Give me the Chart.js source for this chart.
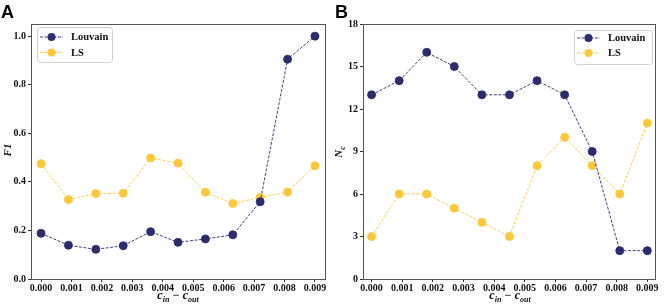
<!DOCTYPE html>
<html><head><meta charset="utf-8">
<script src="https://cdn.jsdelivr.net/npm/chart.js@4"></script>
<style>
html,body{margin:0;padding:0;background:#fff;}
#wrap{position:relative;width:664px;height:308px;overflow:hidden;}
.pane{position:absolute;top:0;width:332px;height:308px;}
.lbl{position:absolute;font-family:"Liberation Sans",Arial,sans-serif;font-weight:bold;font-size:18px;line-height:18px;color:#000;}
.xt{position:absolute;font-family:"Liberation Serif","Times New Roman",serif;font-style:italic;font-weight:bold;font-size:12px;line-height:12px;color:#111;white-space:nowrap;transform:translateX(-50%);}
.xt sub{font-size:8px;vertical-align:-3px;line-height:8px;}
.yt{position:absolute;font-family:"Liberation Serif","Times New Roman",serif;font-style:italic;font-weight:bold;font-size:11px;line-height:11px;color:#111;white-space:nowrap;transform:translate(-50%,-50%) rotate(-90deg);}
.yt sub{font-size:8px;vertical-align:-3px;line-height:8px;}
</style></head>
<body><div id="wrap">
<div class="pane" style="left:0"><canvas id="cA"></canvas></div>
<div class="pane" style="left:332px"><canvas id="cB"></canvas></div>
<div class="lbl" style="left:1px;top:3px">A</div>
<div class="lbl" style="left:335px;top:3px">B</div>
<div class="xt" style="left:178px;top:289px">c<sub>in</sub> − c<sub>out</sub></div>
<div class="xt" style="left:510px;top:289px">c<sub>in</sub> − c<sub>out</sub></div>
<div class="yt" style="left:7px;top:150px">F1</div>
<div class="yt" style="left:340px;top:152px">N<sub>c</sub></div>
</div>
<script>
const xValues = [0, 0.0009, 0.0018, 0.0027, 0.0036, 0.0045, 0.0054, 0.0063, 0.0072, 0.0081, 0.009];
const xTicks = [0, 0.001, 0.002, 0.003, 0.004, 0.005, 0.006, 0.007, 0.008, 0.009];
const seriesNames = ["Louvain", "LS"];
const f1Louvain = [0.188, 0.139, 0.122, 0.137, 0.195, 0.151, 0.165, 0.182, 0.318, 0.905, 1.0];
const f1LS = [0.475, 0.327, 0.352, 0.353, 0.498, 0.477, 0.357, 0.311, 0.336, 0.358, 0.466];
const ncLouvain = [13, 14, 16, 15, 13, 13, 14, 13, 9, 2, 2];
const ncLS = [3, 6, 6, 5, 4, 3, 8, 10, 8, 6, 11];
const f1Ticks = [0, 0.2, 0.4, 0.6, 0.8, 1.0];
const ncTicks = [0, 3, 6, 9, 12, 15, 18];

const NAVY = '#2c2d6c', GOLD = '#fdc738';
const tickFont = {family: '"Liberation Serif","Times New Roman",serif', weight: 'bold', size: 10};

function ds(name, vals, color) {
  return {
    label: name,
    data: vals.map((v, i) => ({x: xValues[i], y: v})),
    borderColor: color, backgroundColor: color,
    pointBackgroundColor: color, pointBorderColor: color,
    borderWidth: 0.9, borderDash: [3, 1.5],
    pointRadius: 4, pointHoverRadius: 4, tension: 0, showLine: true
  };
}

const framePlugin = {
  id: 'frame',
  afterDraw(chart) {
    const a = chart.chartArea, c = chart.ctx;
    c.save();
    c.strokeStyle = '#555'; c.lineWidth = 1;
    c.strokeRect(Math.round(a.left) + 0.5, Math.round(a.top) + 0.5, Math.round(a.right - a.left), Math.round(a.bottom - a.top));
    const L = chart.options.plugins.myLegend;
    c.fillStyle = 'rgba(255,255,255,0.85)';
    c.strokeStyle = '#d0d0d0'; c.lineWidth = 1;
    c.beginPath();
    if (c.roundRect) c.roundRect(L.x + 0.5, L.y + 0.5, L.w, L.h, 3); else c.rect(L.x + 0.5, L.y + 0.5, L.w, L.h);
    c.fill(); c.stroke();
    chart.data.datasets.forEach((d, i) => {
      const cy = L.y + L.row0 + i * L.gap;
      c.strokeStyle = d.borderColor; c.lineWidth = 0.9; c.setLineDash([3, 1.5]);
      c.beginPath(); c.moveTo(L.x + 3, cy); c.lineTo(L.x + 26, cy); c.stroke();
      c.setLineDash([]);
      c.fillStyle = d.borderColor;
      c.beginPath(); c.arc(L.x + 14.5, cy, 4, 0, Math.PI * 2); c.fill();
      c.fillStyle = '#111';
      c.font = 'bold 10.5px "Liberation Serif","Times New Roman",serif';
      c.textBaseline = 'middle'; c.textAlign = 'left';
      c.fillText(d.label, L.x + 34, cy + 0.5);
    });
    c.restore();
  }
};

function make(id, a, b, yTicks, yMax, yFmt, xMin, xMax, padRight, legend) {
  return new Chart(document.getElementById(id), {
    type: 'line',
    data: {datasets: [ds(seriesNames[0], a, NAVY), ds(seriesNames[1], b, GOLD)]},
    options: {
      responsive: true, maintainAspectRatio: false, animation: false,
      layout: {padding: {left: 0, top: 24, right: padRight, bottom: 0}},
      plugins: {legend: {display: false}, tooltip: {enabled: false}, myLegend: legend},
      scales: {
        x: {
          type: 'linear', min: xMin, max: xMax,
          afterBuildTicks(s) { s.ticks = xTicks.map(v => ({value: v})); },
          afterFit(s) { s.height = 29; },
          ticks: {font: tickFont, color: '#111', padding: 0, maxRotation: 0, autoSkip: false, callback: v => Number(v).toFixed(3)},
          grid: {display: true, drawOnChartArea: false, drawTicks: true, tickLength: 3, color: '#333'},
          border: {display: false}
        },
        y: {
          type: 'linear', min: 0, max: yMax,
          afterBuildTicks(s) { s.ticks = yTicks.map(v => ({value: v})); },
          afterFit(s) { s.width = 31; },
          ticks: {font: tickFont, color: '#111', padding: 2, autoSkip: false, callback: yFmt},
          grid: {display: true, drawOnChartArea: false, drawTicks: true, tickLength: 3, color: '#333'},
          border: {display: false}
        }
      }
    },
    plugins: [framePlugin]
  });
}

make('cA', f1Louvain, f1LS, f1Ticks, 1.05, v => Number(v).toFixed(1), -0.00033, 0.00933, 7,
  {x: 37, y: 27, w: 75, h: 35, row0: 10, gap: 15.5});
make('cB', ncLouvain, ncLS, ncTicks, 18, v => String(v), -0.00028, 0.00925, 9,
  {x: 242, y: 30, w: 78, h: 34, row0: 8, gap: 15});
</script>
</body></html>
